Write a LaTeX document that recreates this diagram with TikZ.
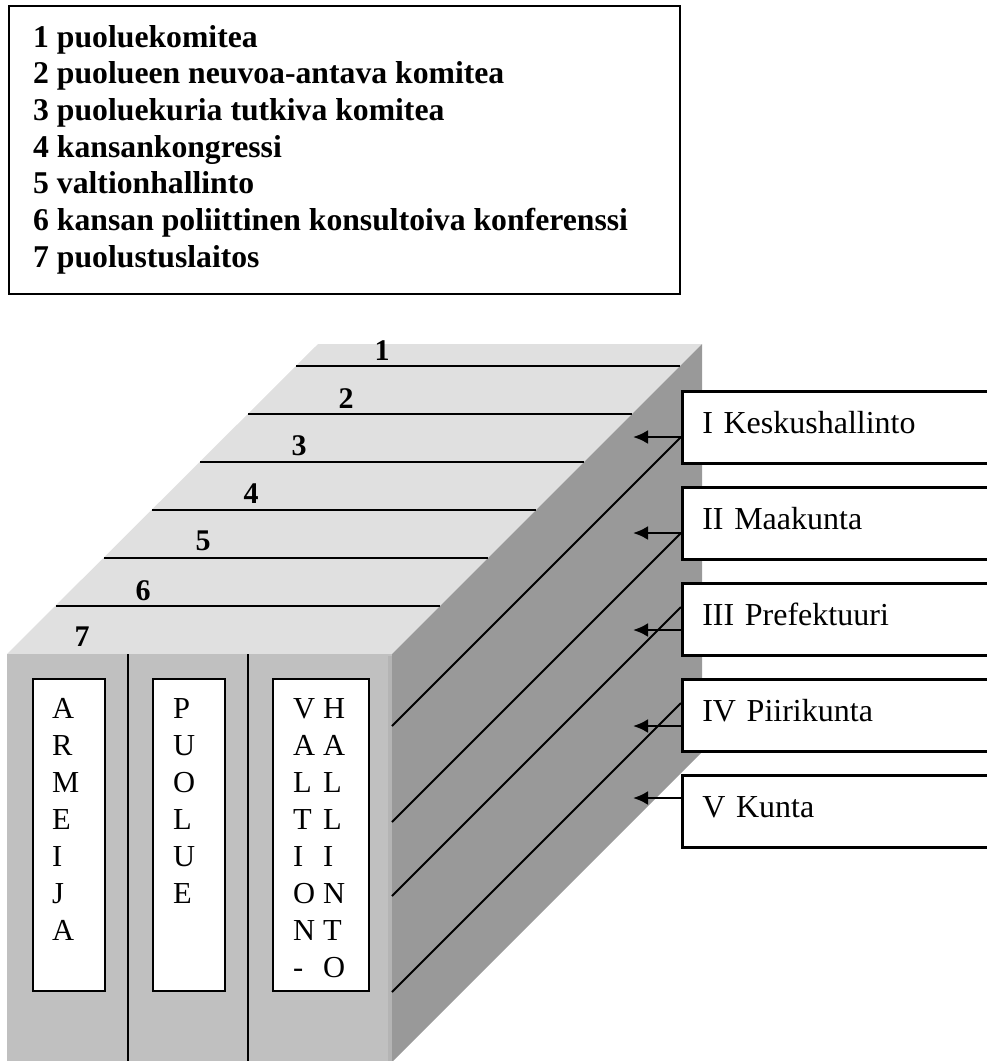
\documentclass[tikz,border=0pt]{standalone}
\usepackage{fontspec}
\setmainfont{Liberation Serif}
\usetikzlibrary{arrows.meta}

\definecolor{topgray}{HTML}{E0E0E0}
\definecolor{frontgray}{HTML}{C0C0C0}
\definecolor{edgegray}{HTML}{B4B4B4}
\definecolor{sidegray}{HTML}{999999}

\tikzset{
  legendtext/.style={anchor=base west, inner sep=0pt, font=\fontsize{31.7}{37}\selectfont\bfseries},
  facenum/.style={anchor=base, inner sep=0pt, font=\fontsize{30}{36}\selectfont\bfseries},
  spinebox/.style={draw, line width=2pt, fill=white, anchor=north west, inner sep=0pt, minimum height=312pt},
  spineletter/.style={anchor=base west, inner sep=0pt, font=\fontsize{30.5}{37}\selectfont},
  levelbox/.style={draw, line width=2.6pt, fill=white, anchor=north west, inner xsep=20pt, inner ysep=0pt,
    text width=300pt, align=left, text height=42pt, text depth=30pt, font=\fontsize{32}{37}\selectfont},
  rung/.style={line width=1.8pt},
  levelarrow/.style={line width=2.6pt, -{Latex[length=15pt,width=14pt]}},
}

\begin{document}
\begin{tikzpicture}[x=1pt,y=-1pt]
  \useasboundingbox (0,0) rectangle (986,1061);

  % legend
  \draw[line width=2.4pt] (9,6) rectangle (680,294);
  \foreach \txt [count=\i from 0] in {1 puoluekomitea, 2 puolueen neuvoa-antava komitea,
      3 puoluekuria tutkiva komitea, 4 kansankongressi, 5 valtionhallinto,
      6 kansan poliittinen konsultoiva konferenssi, 7 puolustuslaitos}
    \node[legendtext] (leg\i) at (33,{47+36.7*\i}) {\txt};

  % block
  \fill[topgray] (7,654) -- (392,654) -- (702,344) -- (318,344) -- cycle;
  \fill[frontgray] (7,654) rectangle (392,1061);
  \fill[edgegray] (388,656) rectangle (392,1061);
  \fill[sidegray] (392,654) -- (702,344) -- (702,752) -- (392,1062) -- cycle;

  % top face, levels 1-7
  \foreach \k in {0,...,5}
    \draw[line width=2.6pt] ({296-48*\k},{366+48*\k}) -- ({680-48*\k},{366+48*\k});
  \foreach \n/\x/\y in {1/382/360, 2/346/408, 3/299/455, 4/251/503, 5/203/550, 6/143/600, 7/82/646}
    \node[facenum] (num\n) at (\x,\y) {\n};

  % front face
  \draw[line width=1.8pt] (128,654) -- (128,1061);
  \draw[line width=1.8pt] (248,654) -- (248,1061);
  \node[spinebox, minimum width=72pt] (armeija) at (32,678) {};
  \node[spinebox, minimum width=72pt] (puolue) at (152,678) {};
  \node[spinebox, minimum width=96pt] (hallinto) at (272,678) {};
  \foreach \ch [count=\i from 0] in {A,R,M,E,I,J,A}
    \node[spineletter] (arm\i) at (52,{718+37*\i}) {\ch};
  \foreach \ch [count=\i from 0] in {P,U,O,L,U,E}
    \node[spineletter] (puo\i) at (173,{718+37*\i}) {\ch};
  \foreach \ch [count=\i from 0] in {V,A,L,T,I,O,N,-}
    \node[spineletter] (val\i) at (293,{718+37*\i}) {\ch};
  \foreach \ch [count=\i from 0] in {H,A,L,L,I,N,T,O}
    \node[spineletter] (hal\i) at (323,{718+37*\i}) {\ch};

  % administrative levels I-V
  \foreach \r/\top/\ay/\name in {I/390/437/Keskushallinto, II/486/533/Maakunta,
      III/582/630/Prefektuuri, IV/678/726/Piirikunta, V/774/798/Kunta} {
    \node[levelbox] (lvl\r) at (681,\top) {\r\ \name};
    \coordinate (tip\r) at (633,\ay);
    \draw[levelarrow] (lvl\r.west |- tip\r) -- (tip\r);
  }
  \foreach \r/\ey in {I/437, II/533, III/607, IV/703} {
    \coordinate (foot\r) at (392,{\ey+289});
    \draw[rung] (foot\r) -- (lvl\r.west |- 0,\ey);
  }
\end{tikzpicture}
\end{document}
